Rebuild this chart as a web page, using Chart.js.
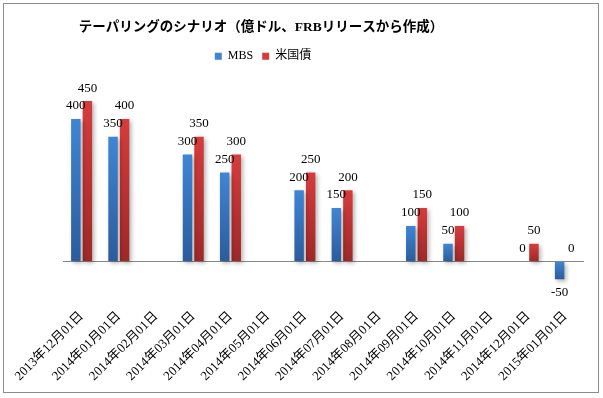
<!DOCTYPE html>
<html>
<head>
<meta charset="utf-8">
<script src="https://cdn.jsdelivr.net/npm/chart.js@4/dist/chart.umd.min.js"></script>
<style>
    body { margin: 0; background: #fff; }
    #frame { position: absolute; left: 3px; top: 3px; width: 594px; height: 388px; border: 1px solid #8c8c8c; pointer-events: none; }
    #chart { position: absolute; left: 0; top: 0; }
</style>
</head>
<body>
<canvas id="chart" width="603" height="398"></canvas>
<div id="frame"></div>
<script>
/* global Chart */

const titleText = "テーパリングのシナリオ（億ドル、FRBリリースから作成）";
const months = [
    "2013年12月01日", "2014年01月01日", "2014年02月01日", "2014年03月01日",
    "2014年04月01日", "2014年05月01日", "2014年06月01日", "2014年07月01日",
    "2014年08月01日", "2014年09月01日", "2014年10月01日", "2014年11月01日",
    "2014年12月01日", "2015年01月01日"
];
const mbs = [400, 350, null, 300, 250, null, 200, 150, null, 100, 50, null, 0, -50];
const treasuries = [450, 400, null, 350, 300, null, 250, 200, null, 150, 100, null, 50, 0];

const serif = "'Liberation Serif', 'Noto Sans CJK JP', serif";

function barGradient(light, dark) {
    return (ctx) => {
        let chart = ctx.chart;
        let y = chart.scales.y;
        if (!chart.chartArea || !y || ctx.raw == null) {
            return dark;
        }
        let top = y.getPixelForValue(Math.max(ctx.raw, 0));
        let bottom = y.getPixelForValue(Math.min(ctx.raw, 0));
        if (bottom - top < 1) {
            return dark;
        }
        let g = chart.ctx.createLinearGradient(0, top, 0, bottom);
        g.addColorStop(0, light);
        g.addColorStop(1, dark);
        return g;
    };
}

// title and legend sit left of the plot's centre in the original
const headerShift = {
    id: "headerShift",
    afterLayout(chart) {
        if (chart.titleBlock) {
            chart.titleBlock.left = 0;
            chart.titleBlock.right = 522;
        }
        if (chart.legend) {
            chart.legend.left = 0;
            chart.legend.right = 526;
        }
    }
};

// soft shadow behind the bars
const barShadow = {
    id: "barShadow",
    beforeDatasetsDraw(chart) {
        let ctx = chart.ctx;
        ctx.save();
        ctx.shadowColor = "rgba(0,0,0,0.3)";
        ctx.shadowBlur = 4;
        ctx.shadowOffsetX = 2;
        ctx.shadowOffsetY = 2;
    },
    afterDatasetsDraw(chart) {
        chart.ctx.restore();
    }
};

// value labels above (or below) each bar
const valueLabels = {
    id: "valueLabels",
    afterDatasetsDraw(chart) {
        let ctx = chart.ctx;
        ctx.save();
        ctx.font = "13px " + serif;
        ctx.fillStyle = "#000";
        ctx.textAlign = "center";
        ctx.textBaseline = "middle";
        chart.data.datasets.forEach((ds, i) => {
            chart.getDatasetMeta(i).data.forEach((bar, j) => {
                let v = ds.data[j];
                if (v == null) return;
                let y = v < 0 ? bar.y + 13 : bar.y - 13;
                ctx.fillText(String(v), bar.x, y);
            });
        });
        ctx.restore();
    }
};

new Chart("chart", {
    type: "bar",
    data: {
        labels: months,
        datasets: [
            { label: "MBS", data: mbs, backgroundColor: barGradient("#4085d4", "#2b5c9c") },
            { label: "米国債", data: treasuries, backgroundColor: barGradient("#d63c3c", "#9e2828") }
        ]
    },
    options: {
        responsive: false,
        devicePixelRatio: 1,
        animation: false,
        categoryPercentage: 0.62,
        barPercentage: 0.82,
        layout: { padding: { left: 63, right: 19, top: 0, bottom: 12 } },
        plugins: {
            title: {
                display: true,
                text: titleText,
                color: "#000",
                font: { family: serif, size: 13.5, weight: "bold" },
                padding: { top: 19, bottom: 6 }
            },
            legend: {
                position: "top",
                labels: {
                    color: "#000",
                    font: { family: serif, size: 12 },
                    boxWidth: 7,
                    boxHeight: 7,
                    padding: 9
                }
            },
            tooltip: { enabled: false }
        },
        scales: {
            x: {
                grid: { display: false },
                border: { display: false },
                ticks: {
                    color: "#000",
                    font: { family: serif, size: 13 },
                    minRotation: 45,
                    maxRotation: 45,
                    autoSkip: false,
                    padding: 2
                }
            },
            y: {
                min: -104,
                max: 531,
                ticks: { display: false, stepSize: 50 },
                border: { display: false },
                grid: {
                    drawTicks: false,
                    lineWidth: 1,
                    color: (c) => c.tick && c.tick.value === 0 ? "#888" : "rgba(0,0,0,0)"
                }
            }
        }
    },
    plugins: [headerShift, barShadow, valueLabels]
});
</script>
</body>
</html>
